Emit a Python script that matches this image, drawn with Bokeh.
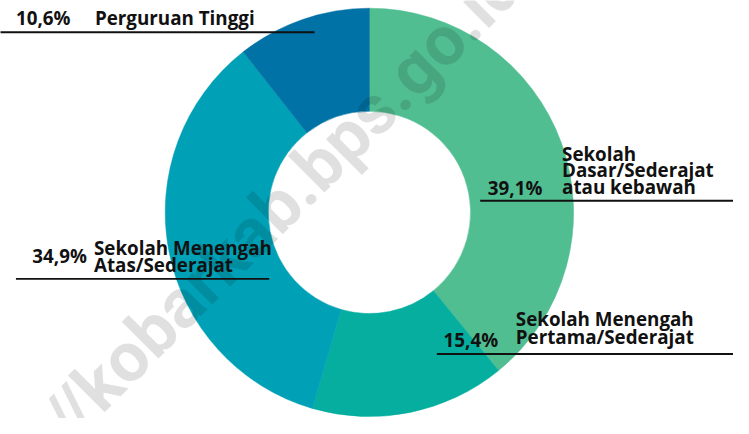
import math
from bokeh.plotting import figure
from bokeh.models import Range1d, ColumnDataSource
from bokeh.core.properties import value
from bokeh.embed import file_html
from bokeh.resources import INLINE

# ---- data ----
categories = ["Sekolah Dasar/Sederajat atau kebawah",
              "Sekolah Menengah Pertama/Sederajat",
              "Sekolah Menengah Atas/Sederajat",
              "Perguruan Tinggi"]
values = [39.1, 15.4, 34.9, 10.6]
label_lines = [["Sekolah", "Dasar/Sederajat", "atau kebawah"],
               ["Sekolah Menengah", "Pertama/Sederajat"],
               ["Sekolah Menengah", "Atas/Sederajat"],
               ["Perguruan Tinggi"]]
colors = ["#51BE92", "#05AE9F", "#00A1B7", "#0072A5"]
watermark = "https://kobarkab.bps.go.id"

# ---- layout (reference pixel coordinates, y downwards) ----
REF_W, REF_H = 749, 434
W, H = 733, 418
s = min(W / REF_W, H / REF_H)
span_x = W / s
x0 = -(span_x - REF_W) / 2

def Y(y):
    return REF_H - y

cx, cy = 377, 220
r_out, r_in = 212, 105
LABEL_PX = 19.5
BASE_FIX = 0.41  # bokeh draws "alphabetic" text ~0.41em low; compensate

# label layout: (pct x, pct baseline, name x, first baseline, line step, rule y, rule x0, rule x1)
layout = [
    (500, 203, 577, 167, 17.5, 208, 492, 760),
    (454, 360, 529, 339, 18.0, 367, 447, 760),
    (27, 273, 91, 265, 17.5, 289, 10, 273),
    (10, 26, 92, 26, 17.5, 33, -10, 320),
]

p = figure(width=W, height=H, output_backend="svg", toolbar_location=None,
           x_range=Range1d(x0, x0 + span_x), y_range=Range1d(0, REF_H),
           min_border=0, outline_line_color=None)
p.axis.visible = False
p.grid.visible = False
p.background_fill_color = "white"
p.border_fill_color = "white"

total = sum(values)
starts, ends = [], []
cum = 0.0
for v in values:
    starts.append(math.pi / 2 - 2 * math.pi * cum / total)
    cum += v
    ends.append(math.pi / 2 - 2 * math.pi * cum / total)

src = ColumnDataSource(dict(x=[cx] * len(values), y=[Y(cy)] * len(values),
                            start=starts, end=ends, color=colors, cat=categories))
p.annular_wedge(x="x", y="y", inner_radius=r_in, outer_radius=r_out,
                start_angle="start", end_angle="end", direction="clock",
                fill_color="color", line_color="color", line_width=0.5, source=src)

# watermark (centre of baseline at ~(241.5, 295.5), rotated 45 degrees)
WM_PX = 72
d = BASE_FIX * WM_PX / math.sqrt(2)
p.text(x=[241.5 - d], y=[Y(295.5 - d)], text=[watermark], angle=math.pi / 4,
       text_font=value("Roboto"), text_font_style="bold",
       text_font_size=f"{WM_PX * s:.1f}px", text_color="black", text_alpha=0.12,
       text_align="center", text_baseline="alphabetic")

fs = f"{LABEL_PX * s:.1f}px"
shift = BASE_FIX * LABEL_PX
for i, v in enumerate(values):
    px, pb, nx, nb, step, ry, rx0, rx1 = layout[i]
    p.line([rx0, rx1], [Y(ry), Y(ry)], line_color="#111111", line_width=2 * s)
    pct = f"{v:.1f}".replace(".", ",") + "%"
    p.text(x=[px], y=[Y(pb - shift)], text=[pct], text_font=value("Open Sans"),
           text_font_style="bold", text_font_size=fs, text_color="#111111",
           text_baseline="alphabetic", text_align="left")
    lines = label_lines[i]
    p.text(x=[nx] * len(lines),
           y=[Y(nb - shift + k * step) for k in range(len(lines))],
           text=lines, text_font=value("Open Sans"), text_font_style="bold",
           text_font_size=fs, text_color="#111111",
           text_baseline="alphabetic", text_align="left")

open("out.html", "w").write(file_html(p, INLINE))
